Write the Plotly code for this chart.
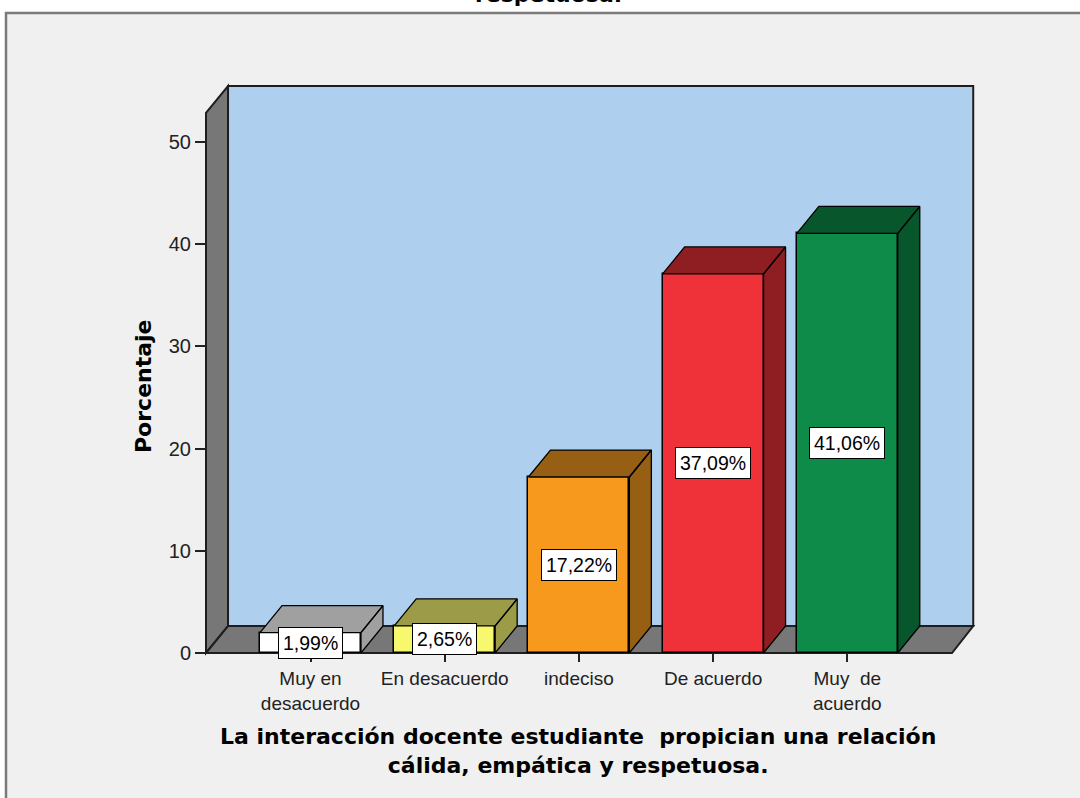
import plotly.graph_objects as go

# ---------------- data ----------------
categories = ["Muy en<br>desacuerdo", "En desacuerdo", "indeciso", "De acuerdo", "Muy  de<br>acuerdo"]
percentages = [1.99, 2.65, 17.22, 37.09, 41.06]
y_tick_values = [0, 10, 20, 30, 40, 50]
y_title = "Porcentaje"
x_title = "La interacción docente estudiante  propician una relación<br>cálida, empática y respetuosa."
title_tail = "respetuosa."

# ---------------- style ----------------
front_colors = ["#ffffff", "#f8f86e", "#f7991c", "#ef323a", "#0e8b48"]
shade_colors = ["#a0a0a0", "#9b9b48", "#965f14", "#8f1e22", "#08562c"]
WALL_BLUE = "#aecfed"
WALL_GRAY = "#777777"
EDGE = "#1e1e1e"
FONT = "Liberation Sans, Arial, sans-serif"
BOLD_FONT = "DejaVu Sans, Verdana, sans-serif"

W, H = 1080, 798
PL, PR, PT, PB = 206, 974, 86, 653          # plot area in pixels
X_RANGE = [-0.7787, 4.9441]
Y_RANGE = [0, 55.48]
DX = 0.164      # depth offset (x units)
DY = 2.64       # depth offset (y units)
BAR_W = 0.752

xs = list(range(len(categories)))


def pxp(x):
    return (x - X_RANGE[0]) / (X_RANGE[1] - X_RANGE[0])


def pyp(y):
    return (y - Y_RANGE[0]) / (Y_RANGE[1] - Y_RANGE[0])


def pix_x(p):
    return (p - PL) / (PR - PL)


def pix_y(p):
    return (PB - p) / (PB - PT)


fig = go.Figure()

# front faces
fig.add_trace(go.Bar(
    x=xs, y=percentages, width=BAR_W,
    marker=dict(color=front_colors, line=dict(color="black", width=1.5)),
    showlegend=False, hoverinfo="skip",
))

# top + side faces (3D effect) from the same values
hw = BAR_W / 2
for x, v, c in zip(xs, percentages, shade_colors):
    fx = [x - hw, x - hw + DX, x + hw + DX, x + hw, x - hw, None,
          x + hw, x + hw + DX, x + hw + DX, x + hw, x + hw]
    fy = [v, v + DY, v + DY, v, v, None,
          0, DY, v + DY, v, 0]
    fig.add_trace(go.Scatter(
        x=fx, y=fy, mode="lines", fill="toself", fillcolor=c,
        line=dict(color="black", width=1.3), showlegend=False, hoverinfo="skip",
    ))

# value labels
for x, v in zip(xs, percentages):
    fig.add_annotation(
        x=x, y=v / 2, xref="x", yref="y", xanchor="center", yanchor="middle",
        text=f"{v:.2f}".replace(".", ",") + "%",
        showarrow=False, bgcolor="white", bordercolor="black", borderwidth=1, borderpad=4,
        font=dict(family=FONT, size=19.5, color="black"),
    )

xmin, xmax = X_RANGE
ytop = Y_RANGE[1]
yfront = ytop - DY

shapes = [
    # outer frame
    dict(type="rect", xref="paper", yref="paper",
         x0=pix_x(6), x1=pix_x(1100), y0=pix_y(820), y1=pix_y(13),
         fillcolor="#f0f0f0", line=dict(color="#7a7a7a", width=2.5), layer="below"),
    # back wall
    dict(type="rect", xref="paper", yref="paper",
         x0=pxp(xmin + DX), x1=pxp(xmax) - 0.001, y0=pyp(DY), y1=pyp(ytop),
         fillcolor=WALL_BLUE, line=dict(color=EDGE, width=2), layer="below"),
    # left wall
    dict(type="path", xref="paper", yref="paper",
         path=f"M {pxp(xmin)},{pyp(0)} L {pxp(xmin)},{pyp(yfront)} L {pxp(xmin + DX)},{pyp(ytop)} "
              f"L {pxp(xmin + DX)},{pyp(DY)} Z",
         fillcolor=WALL_GRAY, line=dict(color=EDGE, width=2), layer="below"),
    # floor
    dict(type="path", xref="paper", yref="paper",
         path=f"M {pxp(xmin)},{pyp(0)} L {pxp(xmin + DX)},{pyp(DY)} L {pxp(xmax) - 0.001},{pyp(DY)} "
              f"L {pxp(xmax - DX)},{pyp(0)} Z",
         fillcolor=WALL_GRAY, line=dict(color=EDGE, width=2), layer="below"),
]

# axis titles and cut-off chart title
fig.add_annotation(x=pix_x(143), y=pix_y(386), xref="paper", yref="paper",
                   xanchor="center", yanchor="middle",
                   text=f"<b>{y_title}</b>", textangle=-90, showarrow=False,
                   font=dict(family=BOLD_FONT, size=22, color="black"))
fig.add_annotation(x=pix_x(578), y=pix_y(751), xref="paper", yref="paper",
                   xanchor="center", yanchor="middle",
                   text=f"<b>{x_title}</b>", showarrow=False,
                   font=dict(family=BOLD_FONT, size=22, color="black"))
fig.add_annotation(x=pix_x(548), y=pix_y(9), xref="paper", yref="paper",
                   xanchor="center", yanchor="bottom",
                   text=f"<b>{title_tail}</b>", showarrow=False,
                   font=dict(family=BOLD_FONT, size=22, color="black"))

fig.update_layout(
    width=W, height=H,
    margin=dict(l=PL, r=W - PR, t=PT, b=H - PB, autoexpand=False),
    paper_bgcolor="white", plot_bgcolor="rgba(0,0,0,0)",
    shapes=shapes, bargap=0,
    xaxis=dict(range=X_RANGE, tickvals=xs, ticktext=categories, ticks="outside",
               ticklen=8, tickwidth=1.5, tickcolor="#222", showgrid=False, zeroline=False,
               showline=False, automargin=False,
               tickfont=dict(family=FONT, size=19, color="#222")),
    yaxis=dict(range=Y_RANGE, tickvals=y_tick_values, ticks="outside", ticklen=10,
               tickwidth=1.5, tickcolor="#222", showgrid=False, zeroline=False,
               showline=False, automargin=False,
               tickfont=dict(family=FONT, size=20, color="#222")),
)

fig.write_html("out.html", config={"displayModeBar": False},
               post_script="document.body.style.margin='0px';")
